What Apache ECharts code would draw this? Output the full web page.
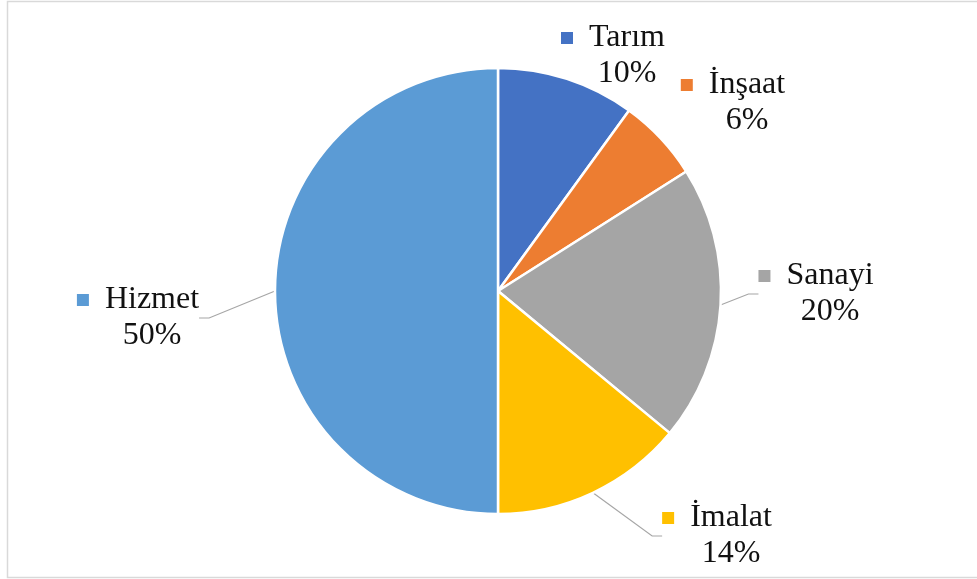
<!DOCTYPE html>
<html>
<head>
<meta charset="utf-8">
<script src="https://cdn.jsdelivr.net/npm/echarts@6/dist/echarts.min.js"></script>
<style>html,body{margin:0;padding:0;background:#fff;}#c{width:977px;height:579px;}</style>
</head>
<body>
<div id="c"></div>
<script>
const categories = ['Tarım', 'İnşaat', 'Sanayi', 'İmalat', 'Hizmet'];
const values = [10, 6, 20, 14, 50];
const colors = ['#4472C4', '#ED7D31', '#A5A5A5', '#FFC000', '#5B9BD5'];
const showLine = [false, false, true, true, true];
// label block centres (layout only)
const labelPos = [[613, 56], [733, 103], [816, 294], [717, 536], [138, 318]];

const chart = echarts.init(document.getElementById('c'), null, {renderer: 'canvas'});
const rich = {
  p: {fontFamily: 'Liberation Serif', fontSize: 32, color: '#111', align: 'center', lineHeight: 36, padding: [0, 0, 0, 28]}
};
categories.forEach((c, i) => {
  rich['m' + i] = {width: 12, height: 12, backgroundColor: colors[i], align: 'center'};
});
rich.n = {fontFamily: 'Liberation Serif', fontSize: 32, color: '#111', align: 'center', lineHeight: 36, padding: [0, 0, 0, 16]};

chart.setOption({
  animation: false,
  backgroundColor: '#fff',
  graphic: [{
    type: 'rect', shape: {x: 7.5, y: 1.5, width: 1000, height: 576},
    style: {fill: 'none', stroke: '#d9d9d9', lineWidth: 1.5}, silent: true
  }],
  series: [{
    type: 'pie',
    center: [498, 291],
    radius: 223,
    startAngle: 90,
    clockwise: true,
    itemStyle: {borderColor: '#fff', borderWidth: 2.5},
    label: {
      show: true,
      formatter: p => '{m' + p.dataIndex + '|}{n|' + p.name + '}\n{p|' + p.value + '%}',
      rich: rich,
      align: 'center'
    },
    labelLine: {show: true, lineStyle: {color: '#a6a6a6', width: 1.2}, length: 10, length2: 10},
    labelLayout: function (params) {
      const pos = labelPos[params.dataIndex];
      return {x: pos[0], y: pos[1], align: 'center', verticalAlign: 'middle', moveOverlap: null};
    },
    data: categories.map((c, i) => ({
      name: c, value: values[i], itemStyle: {color: colors[i]},
      labelLine: {show: showLine[i]}
    }))
  }]
});
</script>
</body>
</html>
